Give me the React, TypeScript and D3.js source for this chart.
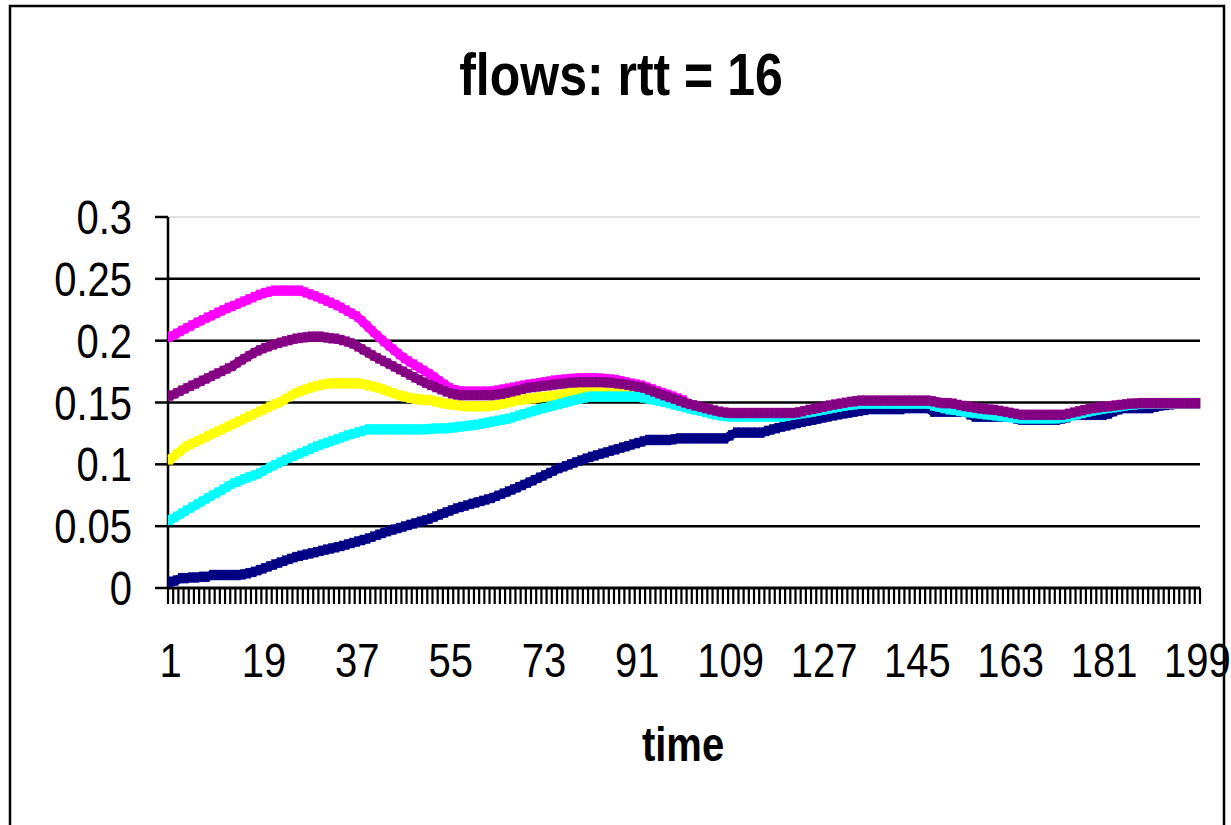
import React from "react";
import * as d3 from "d3";

const TITLE = "flows: rtt = 16";
const X_TITLE = "time";
const Y_TICKS = [0, 0.05, 0.1, 0.15, 0.2, 0.25, 0.3];
const X_LABELS = [1, 19, 37, 55, 73, 91, 109, 127, 145, 163, 181, 199];
const N_POINTS = 199;

const navy = [
  0.005, 0.006, 0.008, 0.008, 0.0085, 0.0085, 0.009, 0.009, 0.0105, 0.0105,
  0.0105, 0.0105, 0.0105, 0.0105, 0.011, 0.012, 0.013, 0.0145, 0.016, 0.0175,
  0.019, 0.0205, 0.022, 0.0235, 0.025, 0.026, 0.027, 0.028, 0.029, 0.03,
  0.031, 0.032, 0.033, 0.034, 0.0352, 0.0364, 0.0376, 0.0388, 0.04, 0.0415,
  0.043, 0.0445, 0.046, 0.0472, 0.0485, 0.0497, 0.051, 0.0522, 0.0535, 0.0548,
  0.056, 0.0577, 0.0594, 0.061, 0.0627, 0.0643, 0.0655, 0.0667, 0.068, 0.0692,
  0.0704, 0.0716, 0.0728, 0.0745, 0.0762, 0.078, 0.0797, 0.0815, 0.0833, 0.0852,
  0.0872, 0.0891, 0.091, 0.093, 0.095, 0.097, 0.0985, 0.1, 0.1015, 0.103,
  0.1045, 0.106, 0.1072, 0.1085, 0.1097, 0.111, 0.1122, 0.1135, 0.1147, 0.116,
  0.1172, 0.1185, 0.1197, 0.1197, 0.1197, 0.1197, 0.1197, 0.1203, 0.121, 0.121,
  0.121, 0.121, 0.121, 0.121, 0.121, 0.121, 0.121, 0.121, 0.1235, 0.1256,
  0.1256, 0.1256, 0.1256, 0.1256, 0.1256, 0.127, 0.1282, 0.1293, 0.1305, 0.1315,
  0.1325, 0.1334, 0.1343, 0.1352, 0.136, 0.1369, 0.1378, 0.1387, 0.1396, 0.1405,
  0.1412, 0.1418, 0.1425, 0.1432, 0.144, 0.1447, 0.1447, 0.1447, 0.1447, 0.1447,
  0.1447, 0.1447, 0.1455, 0.1455, 0.1455, 0.1455, 0.1455, 0.1425, 0.1425, 0.1425,
  0.1425, 0.1425, 0.1425, 0.1425, 0.1405, 0.1385, 0.1385, 0.1385, 0.1385, 0.1385,
  0.1385, 0.1385, 0.1385, 0.137, 0.136, 0.136, 0.136, 0.136, 0.136, 0.136,
  0.136, 0.136, 0.137, 0.138, 0.14, 0.14, 0.14, 0.14, 0.14, 0.14,
  0.14, 0.141, 0.143, 0.1445, 0.1455, 0.1455, 0.1455, 0.1455, 0.1455, 0.1455,
  0.1465, 0.1475, 0.148, 0.1485, 0.149, 0.149, 0.149, 0.149, 0.149,
];

const magenta = [
  0.2032, 0.2055, 0.2078, 0.21, 0.2122, 0.2145, 0.2165, 0.2185, 0.2205, 0.2225,
  0.2245, 0.2265, 0.228, 0.2298, 0.2316, 0.2334, 0.2352, 0.237, 0.2385, 0.2395,
  0.2404, 0.2404, 0.2404, 0.2404, 0.2404, 0.2404, 0.239, 0.2375, 0.236, 0.2342,
  0.2324, 0.2306, 0.2288, 0.2265, 0.2242, 0.2218, 0.2194, 0.2155, 0.2115, 0.2075,
  0.2035, 0.1998, 0.1962, 0.1927, 0.1892, 0.186, 0.1832, 0.1806, 0.178, 0.1755,
  0.173, 0.17, 0.167, 0.1642, 0.1615, 0.16, 0.159, 0.1588, 0.1588, 0.1588,
  0.1588, 0.1588, 0.159, 0.1597, 0.1605, 0.1612, 0.162, 0.1628, 0.1636, 0.1644,
  0.165, 0.1657, 0.1664, 0.167, 0.1678, 0.1682, 0.1686, 0.169, 0.1693, 0.1696,
  0.1696, 0.1696, 0.1696, 0.1694, 0.169, 0.1686, 0.1682, 0.1672, 0.1662, 0.1652,
  0.1644, 0.1635, 0.1622, 0.1607, 0.1592, 0.1577, 0.1562, 0.1547, 0.1532, 0.1517,
  0.1484, 0.1473, 0.1462, 0.1451, 0.1441, 0.1431, 0.1421, 0.1414, 0.1411, 0.1411,
  0.1411, 0.1411, 0.1411, 0.1411, 0.1411, 0.1411, 0.1411, 0.1411, 0.1411, 0.1411,
  0.1411, 0.1416, 0.1426, 0.1436, 0.1444, 0.1452, 0.1461, 0.1471, 0.1479, 0.1486,
  0.1493, 0.1501, 0.1506, 0.1511, 0.1511, 0.1511, 0.1511, 0.1511, 0.1511, 0.1511,
  0.1511, 0.1511, 0.1511, 0.1511, 0.1511, 0.1511, 0.1511, 0.1506, 0.1496, 0.1491,
  0.1491, 0.1486, 0.1476, 0.1468, 0.1461, 0.1454, 0.1448, 0.1443, 0.1439, 0.1436,
  0.1428, 0.142, 0.1412, 0.1404, 0.1396, 0.1396, 0.1396, 0.1396, 0.1396, 0.1396,
  0.1396, 0.1396, 0.1396, 0.1404, 0.1414, 0.1424, 0.1434, 0.1443, 0.1451, 0.1456,
  0.1461, 0.1466, 0.1471, 0.1476, 0.1481, 0.1486, 0.1488, 0.1491, 0.1491, 0.1491,
  0.1491, 0.1491, 0.1491, 0.1491, 0.1491, 0.1491, 0.1491, 0.1491, 0.1491,
];

const yellow = [
  0.104, 0.108, 0.111, 0.1145, 0.1165, 0.1185, 0.1205, 0.1225, 0.1245, 0.1265,
  0.1285, 0.1305, 0.1325, 0.1345, 0.1365, 0.1385, 0.1405, 0.1425, 0.1445, 0.1465,
  0.1485, 0.15, 0.1525, 0.155, 0.1575, 0.159, 0.1605, 0.162, 0.1632, 0.1642,
  0.165, 0.1655, 0.1655, 0.1655, 0.1655, 0.1655, 0.1655, 0.165, 0.164, 0.163,
  0.162, 0.1605, 0.159, 0.1575, 0.156, 0.155, 0.1538, 0.153, 0.1525, 0.152,
  0.152, 0.151, 0.15, 0.149, 0.1485, 0.148, 0.1475, 0.147, 0.147, 0.147,
  0.147, 0.147, 0.1475, 0.148, 0.149, 0.15, 0.151, 0.152, 0.1525, 0.153,
  0.1535, 0.154, 0.1545, 0.155, 0.1555, 0.156, 0.157, 0.158, 0.159, 0.1595,
  0.16, 0.16, 0.16, 0.1595, 0.159, 0.1588, 0.1585, 0.158, 0.1575, 0.157,
  0.1565, 0.1555, 0.1545, 0.1535, 0.1525, 0.1515, 0.1505, 0.1495, 0.1485, 0.1475,
  0.1465, 0.1455, 0.1445, 0.1437, 0.1428, 0.142, 0.1412, 0.1405, 0.14, 0.14,
  0.14, 0.14, 0.14, 0.14, 0.14, 0.14, 0.14, 0.14, 0.14, 0.1402,
  0.1405, 0.1412, 0.142, 0.1428, 0.1436, 0.1444, 0.1452, 0.146, 0.1468, 0.1476,
  0.1484, 0.149, 0.1495, 0.15, 0.15, 0.15, 0.15, 0.15, 0.15, 0.15,
  0.15, 0.15, 0.15, 0.15, 0.15, 0.15, 0.15, 0.149, 0.148, 0.147,
  0.1465, 0.146, 0.1452, 0.1445, 0.1438, 0.1432, 0.1428, 0.1424, 0.142, 0.1415,
  0.141, 0.1405, 0.14, 0.1395, 0.139, 0.139, 0.139, 0.139, 0.139, 0.139,
  0.139, 0.139, 0.1395, 0.14, 0.141, 0.142, 0.143, 0.144, 0.1448, 0.1454,
  0.146, 0.1465, 0.147, 0.1475, 0.148, 0.1485, 0.1488, 0.149, 0.1492, 0.1493,
  0.1494, 0.1495, 0.1495, 0.1495, 0.1495, 0.1495, 0.1495, 0.1495, 0.1495,
];

const cyan = [
  0.055, 0.0575, 0.06, 0.0625, 0.065, 0.0675, 0.07, 0.0725, 0.0748, 0.077,
  0.0795, 0.082, 0.0845, 0.086, 0.088, 0.0895, 0.091, 0.0925, 0.095, 0.0972,
  0.0993, 0.1014, 0.1035, 0.1053, 0.1071, 0.1089, 0.1107, 0.1125, 0.1143, 0.1158,
  0.1173, 0.1188, 0.1203, 0.1218, 0.1233, 0.1245, 0.1258, 0.127, 0.1283, 0.1283,
  0.1283, 0.1283, 0.1283, 0.1283, 0.1283, 0.1283, 0.1283, 0.1283, 0.1283, 0.1283,
  0.1286, 0.1289, 0.1291, 0.1291, 0.1295, 0.13, 0.1305, 0.131, 0.1315, 0.132,
  0.1328, 0.1336, 0.1344, 0.1352, 0.136, 0.1368, 0.138, 0.1393, 0.1406, 0.1418,
  0.1431, 0.1444, 0.1455, 0.1466, 0.1477, 0.1488, 0.1499, 0.151, 0.152, 0.153,
  0.154, 0.1547, 0.1547, 0.1547, 0.1547, 0.1547, 0.1547, 0.1547, 0.1547, 0.1547,
  0.1547, 0.154, 0.1532, 0.1524, 0.1515, 0.1506, 0.1495, 0.1484, 0.1474, 0.1463,
  0.1453, 0.1443, 0.1433, 0.1423, 0.1413, 0.1403, 0.1395, 0.139, 0.1385, 0.1385,
  0.1385, 0.1385, 0.1385, 0.1385, 0.1385, 0.1385, 0.1385, 0.1385, 0.1385, 0.1392,
  0.14, 0.1407, 0.1414, 0.142, 0.1426, 0.1434, 0.1442, 0.145, 0.1458, 0.1466,
  0.1473, 0.148, 0.1485, 0.149, 0.149, 0.149, 0.149, 0.149, 0.149, 0.149,
  0.149, 0.149, 0.149, 0.149, 0.149, 0.149, 0.149, 0.1475, 0.1465, 0.1455,
  0.1445, 0.144, 0.1432, 0.1425, 0.142, 0.1415, 0.141, 0.1405, 0.14, 0.1395,
  0.139, 0.1385, 0.138, 0.1375, 0.137, 0.137, 0.137, 0.137, 0.137, 0.137,
  0.137, 0.1372, 0.1378, 0.1385, 0.1395, 0.1405, 0.1415, 0.1425, 0.1435, 0.1443,
  0.145, 0.1456, 0.1462, 0.1468, 0.1474, 0.148, 0.1484, 0.1488, 0.149, 0.1492,
  0.1493, 0.1494, 0.1495, 0.1495, 0.1495, 0.1495, 0.1495, 0.1495, 0.1495,
];

const purple = [
  0.1555, 0.1575, 0.1595, 0.1615, 0.1635, 0.1655, 0.1675, 0.1695, 0.1715, 0.1735,
  0.1755, 0.1775, 0.1795, 0.1825, 0.185, 0.1875, 0.19, 0.1922, 0.194, 0.1955,
  0.197, 0.1982, 0.1995, 0.2005, 0.2015, 0.2022, 0.2028, 0.2032, 0.2032, 0.2032,
  0.2025, 0.202, 0.2015, 0.2005, 0.1992, 0.1978, 0.1955, 0.193, 0.1905, 0.188,
  0.1858, 0.1836, 0.1814, 0.1792, 0.177, 0.1748, 0.1726, 0.1704, 0.1682, 0.166,
  0.1642, 0.1625, 0.1608, 0.159, 0.1575, 0.1565, 0.156, 0.156, 0.156, 0.156,
  0.156, 0.156, 0.156, 0.1565, 0.157, 0.158, 0.159, 0.16, 0.161, 0.162,
  0.1625, 0.163, 0.1635, 0.164, 0.1645, 0.165, 0.1655, 0.166, 0.1662, 0.1665,
  0.1665, 0.1665, 0.1665, 0.1665, 0.1662, 0.166, 0.1655, 0.165, 0.1643, 0.1635,
  0.1627, 0.162, 0.1605, 0.159, 0.1575, 0.156, 0.1545, 0.153, 0.1515, 0.15,
  0.1488, 0.1477, 0.1466, 0.1455, 0.1445, 0.1435, 0.1425, 0.1418, 0.1415, 0.1415,
  0.1415, 0.1415, 0.1415, 0.1415, 0.1415, 0.1415, 0.1415, 0.1415, 0.1415, 0.1415,
  0.1415, 0.142, 0.143, 0.144, 0.1448, 0.1456, 0.1465, 0.1475, 0.1483, 0.149,
  0.1497, 0.1505, 0.151, 0.1515, 0.1515, 0.1515, 0.1515, 0.1515, 0.1515, 0.1515,
  0.1515, 0.1515, 0.1515, 0.1515, 0.1515, 0.1515, 0.1515, 0.151, 0.15, 0.1495,
  0.1495, 0.149, 0.148, 0.1472, 0.1465, 0.1458, 0.1452, 0.1447, 0.1443, 0.144,
  0.1432, 0.1424, 0.1416, 0.1408, 0.14, 0.14, 0.14, 0.14, 0.14, 0.14,
  0.14, 0.14, 0.14, 0.1408, 0.1418, 0.1428, 0.1438, 0.1447, 0.1455, 0.146,
  0.1465, 0.147, 0.1475, 0.148, 0.1485, 0.149, 0.1492, 0.1495, 0.1495, 0.1495,
  0.1495, 0.1495, 0.1495, 0.1495, 0.1495, 0.1495, 0.1495, 0.1495, 0.1495,
];

const SERIES = [
  { name: "navy", color: "#000080", values: navy },
  { name: "magenta", color: "#FF00FF", values: magenta },
  { name: "yellow", color: "#FFFF00", values: yellow },
  { name: "cyan", color: "#00FFFF", values: cyan },
  { name: "purple", color: "#800080", values: purple },
];

const W = 1231;
const H = 825;
const PLOT_L = 168;
const PLOT_R = 1200;
const PLOT_T = 217;
const PLOT_B = 588;
const FONT = "'Liberation Sans', Arial, Helvetica, sans-serif";
const SY = 1.2;

export default function App() {
  const categories = d3.range(1, N_POINTS + 1);
  const x = d3
    .scaleBand<number>()
    .domain(categories)
    .range([PLOT_L, PLOT_R])
    .padding(0);
  const bw = x.bandwidth();
  const cx = (c: number) => (x(c) as number) + bw / 2;
  const y = d3.scaleLinear().domain([0, 0.3]).range([PLOT_B, PLOT_T]);

  const line = d3
    .line<number>()
    .x((_, i) => cx(categories[i]))
    .y((d) => y(d));

  const boundaries = d3.range(0, N_POINTS + 1).map((k) => PLOT_L + k * bw);

  return (
    <svg
      width={W}
      height={H}
      style={{ position: "absolute", left: 0, top: 0, background: "#fff" }}
    >
      <rect x={0} y={0} width={W} height={H} fill="#fff" />
      <rect
        x={10}
        y={6}
        width={1214}
        height={850}
        fill="none"
        stroke="#000"
        strokeWidth={2.5}
      />
      <text
        transform={`translate(${621}, ${95}) scale(1, ${SY})`}
        textAnchor="middle"
        fontFamily={FONT}
        fontWeight="bold"
        fontSize={50}
        fill="#000"
      >
        {TITLE}
      </text>

      {/* gridlines */}
      {Y_TICKS.map((t) => (
        <line
          key={"g" + t}
          x1={PLOT_L}
          x2={PLOT_R}
          y1={y(t)}
          y2={y(t)}
          stroke={t === 0.3 ? "#d8d8d8" : "#000"}
          strokeWidth={t === 0.3 ? 1.5 : t === 0 ? 3 : 2.5}
        />
      ))}

      {/* y axis */}
      <line x1={PLOT_L} x2={PLOT_L} y1={PLOT_T} y2={PLOT_B} stroke="#000" strokeWidth={2.5} />
      {Y_TICKS.map((t) => (
        <line
          key={"yt" + t}
          x1={155}
          x2={PLOT_L}
          y1={y(t)}
          y2={y(t)}
          stroke="#000"
          strokeWidth={2.5}
        />
      ))}
      {Y_TICKS.map((t) => (
        <text
          key={"yl" + t}
          transform={`translate(132, ${y(t) + 17}) scale(1, ${SY})`}
          textAnchor="end"
          fontFamily={FONT}
          fontSize={40}
          fill="#000"
        >
          {String(t)}
        </text>
      ))}

      {/* x ticks */}
      {boundaries.map((bx, k) => (
        <line
          key={"xt" + k}
          x1={bx}
          x2={bx}
          y1={PLOT_B}
          y2={PLOT_B + 16}
          stroke="#000"
          strokeWidth={2.2}
        />
      ))}
      {X_LABELS.map((c) => (
        <text
          key={"xl" + c}
          transform={`translate(${cx(c)}, 677) scale(1, ${SY})`}
          textAnchor="middle"
          fontFamily={FONT}
          fontSize={40}
          fill="#000"
        >
          {c}
        </text>
      ))}
      <text
        transform={`translate(683, 761) scale(1, ${SY})`}
        textAnchor="middle"
        fontFamily={FONT}
        fontWeight="bold"
        fontSize={40}
        fill="#000"
      >
        {X_TITLE}
      </text>

      {/* series: thick line with square-ish markers at each point */}
      {SERIES.map((s) => (
        <g key={s.name}>
          <path
            d={line(s.values.slice(0, N_POINTS)) || ""}
            fill="none"
            stroke={s.color}
            strokeWidth={9}
            strokeLinejoin="miter"
            strokeLinecap="butt"
          />
          {s.values.slice(0, N_POINTS).map((v, i) => (
            <rect
              key={i}
              x={cx(categories[i]) - bw / 2}
              y={y(v) - 5}
              width={bw}
              height={10}
              fill={s.color}
              stroke={d3.color(s.color)!.brighter(0.6).formatHex()}
              strokeWidth={0.4}
            />
          ))}
        </g>
      ))}
    </svg>
  );
}
